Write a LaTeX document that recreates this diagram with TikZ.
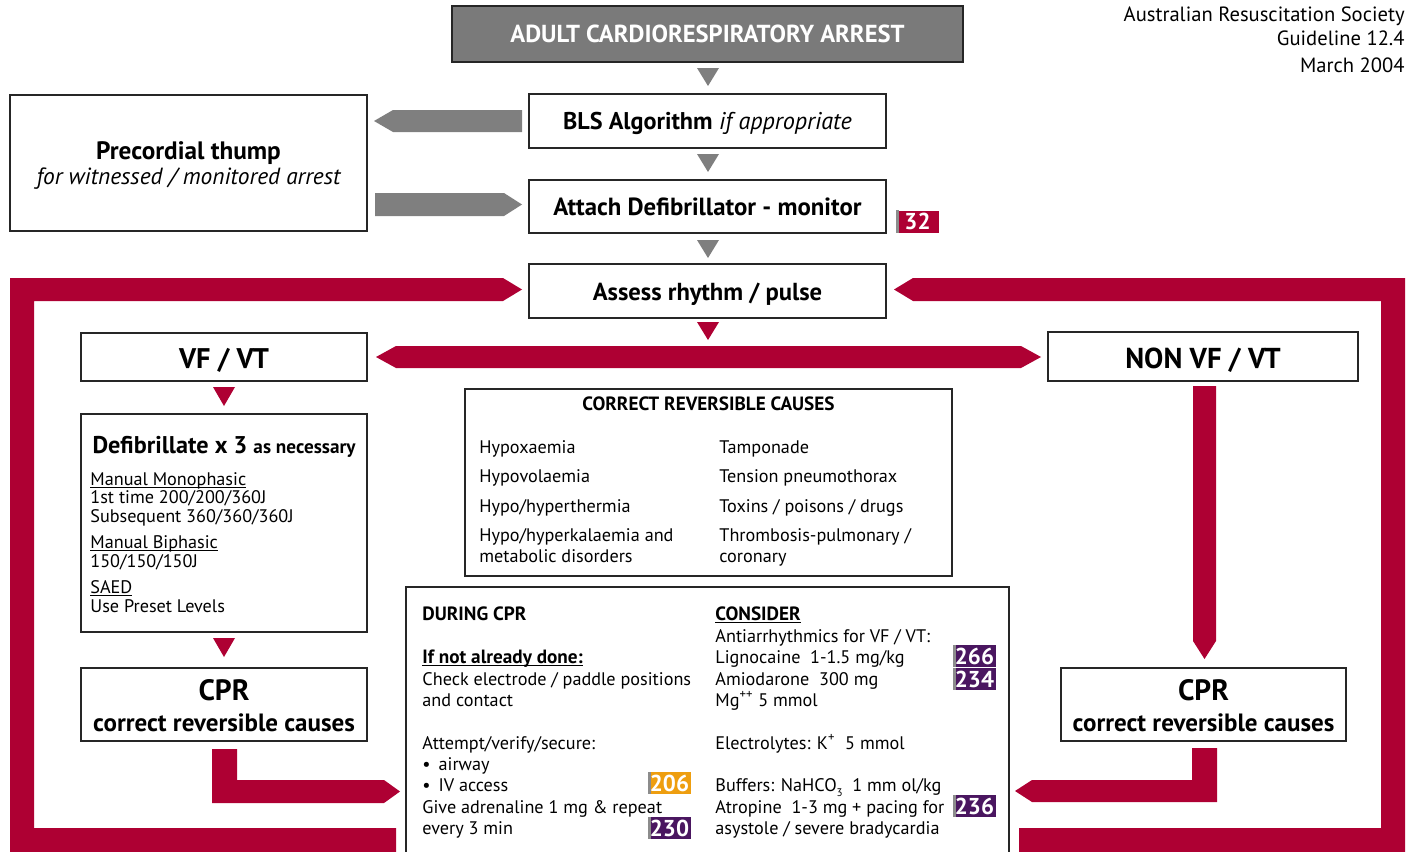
\documentclass[tikz,border=0pt]{standalone}
\usepackage{fontspec}
\setmainfont{PT Sans}
\usetikzlibrary{fit}
\definecolor{crimson}{HTML}{AE0033}
\definecolor{arrowgray}{HTML}{7F7F7F}
\definecolor{titlegray}{HTML}{7A7A7A}
\definecolor{badgepurple}{HTML}{4A1660}
\definecolor{badgeorange}{HTML}{EE9E0F}
\definecolor{badgeedge}{HTML}{8C8C8C}
\newcommand{\fs}[1]{\fontsize{#1}{#1}\selectfont}
% underline sitting just below the baseline
\newcommand{\undl}[1]{\setbox0\hbox{#1}\rlap{\rule[-1.3pt]{\wd0}{0.55pt}}\box0}
% page-reference badge: name, x, y, colour, number
\newcommand{\drawbadge}[5]{%
  \node[badge=#4] (#1) at (#2,#3) {#5};
  \fill[badgeedge] (#1.north west) rectangle ([xshift=1.5pt]#1.south west);
}
\begin{document}
\begin{tikzpicture}[x=0.5pt,y=-0.5pt,
  box/.style={draw=black!85, line width=0.65pt, fill=white, inner sep=0pt},
  titlebox/.style={draw=black!85, line width=0.65pt, fill=titlegray, inner sep=0pt},
  lt/.style={anchor=base west, inner sep=0pt, font=\fs{9.1}},
  ltb/.style={anchor=base west, inner sep=0pt, font=\fs{9.6}\bfseries},
  ct/.style={anchor=base, inner sep=0pt},
  redarrow/.style={fill=crimson},
  grayarrow/.style={fill=arrowgray},
  badge/.style={fill=#1, text=white, inner sep=0pt, minimum width=21.5pt,
    minimum height=11pt, font=\fs{11.5}\bfseries}
]
\useasboundingbox (0,0) rectangle (1407,851);
\clip (0,0) rectangle (1407,851);

% ---------- header ----------
\node[anchor=base east, inner sep=0pt, font=\fs{10.3}] (ars1) at (1405,21) {Australian Resuscitation Society};
\node[anchor=base east, inner sep=0pt, font=\fs{10.3}] (ars2) at (1405,46) {Guideline 12.4};
\node[anchor=base east, inner sep=0pt, font=\fs{10.3}] (ars3) at (1405,72) {March 2004};

\node[titlebox, fit={(452,6)(963,62)}] (title) {};
\node[ct, text=white, font=\fs{12.3}\bfseries] (titlet) at (707.5,42)
  {ADULT CARDIORESPIRATORY ARREST};

% ---------- top column of steps ----------
\node[box, fit={(529,94)(886,148)}] (bls) {};
\node[ct, font=\fs{12.1}] (blst) at (707.5,129) {\textbf{BLS Algorithm} \textit{if appropriate}};
\node[box, fit={(529,180)(886,233)}] (attach) {};
\node[ct, font=\fs{12.4}\bfseries] (attacht) at (707.5,215) {Attach Defibrillator - monitor};
\node[box, fit={(529,264)(886,318)}] (assess) {};
\node[ct, font=\fs{12.3}\bfseries] (assesst) at (707.5,300.5) {Assess rhythm / pulse};

\node[box, fit={(10,95)(367,231)}] (thump) {};
\node[ct, font=\fs{12.6}\bfseries] (thump1) at (188.5,159) {Precordial thump};
\node[ct, font=\fs{11.7}\itshape] (thump2) at (188.5,184) {for witnessed / monitored arrest};

\drawbadge{b32}{917.5}{221.5}{crimson}{32}

% grey step arrows
\fill[grayarrow] (697,68) -- (719,68) -- (708,86) -- cycle;
\fill[grayarrow] (697,154) -- (719,154) -- (708,172) -- cycle;
\fill[grayarrow] (697,240) -- (719,240) -- (708,258) -- cycle;
\fill[grayarrow] (522,110) -- (393,110) -- (374,121) -- (393,132) -- (522,132) -- cycle;
\fill[grayarrow] (375,193) -- (504,193) -- (522,204.5) -- (504,216) -- (375,216) -- cycle;

% ---------- rhythm branches ----------
\node[box, fit={(81,333)(367,381)}] (vf) {};
\node[ct, font=\fs{14.2}\bfseries] (vft) at (224,368) {VF / VT};
\node[box, fit={(1048,332)(1358,381)}] (nonvf) {};
\node[ct, font=\fs{14.4}\bfseries] (nonvft) at (1203,368) {NON VF / VT};

\fill[redarrow] (697,322) -- (719,322) -- (708,340) -- cycle;
\fill[redarrow] (376,357) -- (396,346) -- (1021,346) -- (1041,357) -- (1021,368) -- (396,368) -- cycle;

% VF / VT column
\fill[redarrow] (213,387) -- (235,387) -- (224,406) -- cycle;
\node[box, fit={(81,414)(367,632)}] (defib) {};
\node[ct] (defibt) at (224,453) {\fs{12.1}\bfseries Defibrillate x 3 \fs{9.6}as necessary};
\node[lt] (mono) at (90,485) {\undl{Manual Monophasic}};
\node[lt] (mono1) at (90,503) {1st time 200/200/360J};
\node[lt] (mono2) at (90,522) {Subsequent 360/360/360J};
\node[lt] (bi) at (90,548) {\undl{Manual Biphasic}};
\node[lt] (bi1) at (90,567) {150/150/150J};
\node[lt] (saed) at (90,593) {\undl{SAED}};
\node[lt] (saed1) at (90,612) {Use Preset Levels};

\fill[redarrow] (213,638) -- (235,638) -- (224,657) -- cycle;
\node[box, fit={(81,668)(367,741)}] (cprl) {};
\node[ct, font=\fs{14.7}\bfseries] (cprl1) at (224,700) {CPR};
\node[ct, font=\fs{12.5}\bfseries] (cprl2) at (224,731) {correct reversible causes};

% NON VF / VT column
\fill[redarrow] (1193,386) -- (1216,386) -- (1216,641) -- (1204.5,659) -- (1193,641) -- cycle;
\node[box, fit={(1061,668)(1346,741)}] (cprr) {};
\node[ct, font=\fs{14.7}\bfseries] (cprr1) at (1203.5,700) {CPR};
\node[ct, font=\fs{12.5}\bfseries] (cprr2) at (1203.5,731) {correct reversible causes};

% ---------- reversible causes ----------
\node[box, fit={(465,389)(952,576)}] (causes) {};
\node[ct, font=\fs{9.6}\bfseries] (causest) at (708.5,410) {CORRECT REVERSIBLE CAUSES};
\node[lt] (c1) at (479,453) {Hypoxaemia};
\node[lt] (c2) at (479,482) {Hypovolaemia};
\node[lt] (c3) at (479,512) {Hypo/hyperthermia};
\node[lt] (c4) at (479,541) {Hypo/hyperkalaemia and};
\node[lt] (c5) at (479,562) {metabolic disorders};
\node[lt] (c6) at (719,453) {Tamponade};
\node[lt] (c7) at (719,482) {Tension pneumothorax};
\node[lt] (c8) at (719,512) {Toxins / poisons / drugs};
\node[lt] (c9) at (719,541) {Thrombosis-pulmonary /};
\node[lt] (c10) at (719,562) {coronary};

% ---------- during CPR ----------
\node[box, fit={(406,587)(1009,870)}] (during) {};
\node[ltb] (d1) at (422,620) {DURING CPR};
\node[ltb] (d2) at (422,663) {\undl{If not already done:}};
\node[lt] (d3) at (422,685) {Check electrode / paddle positions};
\node[lt] (d4) at (422,706) {and contact};
\node[lt] (d5) at (422,749) {Attempt/verify/secure:};
\node[lt] (d6) at (422,770) {\textbullet\hspace{4pt}airway};
\node[lt] (d7) at (422,791) {\textbullet\hspace{4pt}IV access};
\node[lt] (d8) at (422,813) {Give adrenaline 1 mg \& repeat};
\node[lt] (d9) at (422,834) {every 3 min};

\node[ltb] (k1) at (715,620) {\undl{CONSIDER}};
\node[lt] (k2) at (715,642) {Antiarrhythmics for VF / VT:};
\node[lt] (k3) at (715,663) {Lignocaine\ \ 1-1.5 mg/kg};
\node[lt] (k4) at (715,685) {Amiodarone\ \ 300 mg};
\node[lt] (k5) at (715,706) {Mg\textsuperscript{++} 5 mmol};
\node[lt] (k6) at (715,749) {Electrolytes: K\textsuperscript{+}\ \ 5 mmol};
\node[lt] (k7) at (715,791) {Buffers: NaHCO\raisebox{-2.5pt}{\fs{5.5}3}\ \ 1 mm ol/kg};
\node[lt] (k8) at (715,813) {Atropine\ \ 1-3 mg + pacing for};
\node[lt] (k9) at (715,834) {asystole / severe bradycardia};

\drawbadge{b206}{669.5}{783}{badgeorange}{206}
\drawbadge{b230}{669.5}{828}{badgepurple}{230}
\drawbadge{b266}{974.5}{656}{badgepurple}{266}
\drawbadge{b234}{974.5}{679}{badgepurple}{234}
\drawbadge{b236}{974.5}{806}{badgepurple}{236}

% ---------- loop-back arrows ----------
\fill[redarrow] (212,749) -- (237,749) -- (237,780) -- (384,780) -- (400,791.5) -- (384,803) -- (212,803) -- cycle;
\fill[redarrow] (1192,748) -- (1217,748) -- (1217,802) -- (1032,802) -- (1015,791) -- (1032,780) -- (1192,780) -- cycle;

% outer frame returning to rhythm assessment
\fill[redarrow] (10,278) -- (503,278) -- (522,289.5) -- (503,301) -- (34,301) -- (34,828)
  -- (396,828) -- (396,860) -- (10,860) -- cycle;
\fill[redarrow] (1405,278) -- (913,278) -- (894,289.5) -- (913,301) -- (1381,301) -- (1381,828)
  -- (1019,828) -- (1019,860) -- (1405,860) -- cycle;
\end{tikzpicture}
\end{document}
